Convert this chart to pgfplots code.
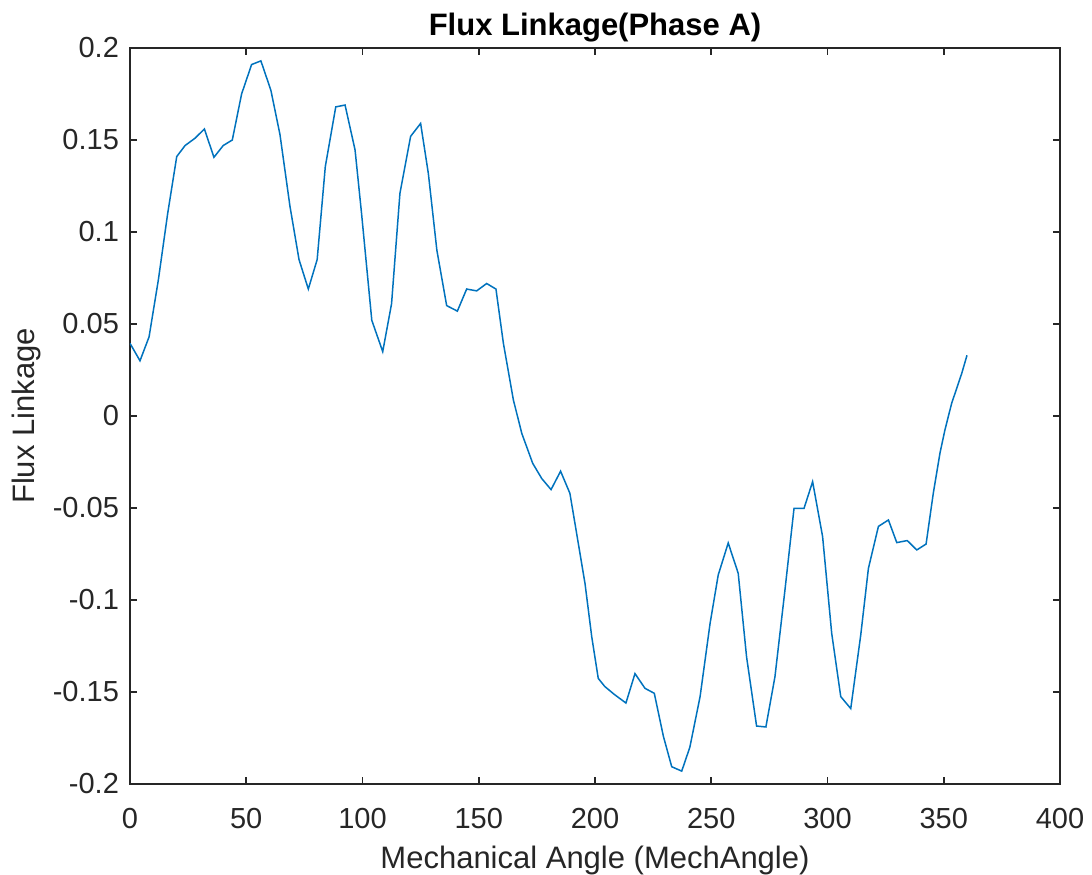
\documentclass[border=0pt]{standalone}
\usepackage{pgfplots}
\pgfplotsset{compat=1.18}
\usepackage{fontspec}
\setmainfont{Liberation Sans}
\definecolor{mlblue}{rgb}{0,0.447,0.741}
\definecolor{mlgray}{rgb}{0.15,0.15,0.15}
\begin{document}
\begin{tikzpicture}
\useasboundingbox (-65pt,-45pt) rectangle (481pt,392pt);
\begin{axis}[
  at={(0,0)}, anchor=south west,
  scale only axis, width=465pt, height=368pt,
  xmin=0, xmax=400, ymin=-0.2, ymax=0.2,
  xtick={0,50,...,400},
  ytick={-0.2,-0.15,-0.1,-0.05,0,0.05,0.1,0.15,0.2},
  yticklabels={-0.2,-0.15,-0.1,-0.05,0,0.05,0.1,0.15,0.2},
  xticklabels={0,50,100,150,200,250,300,350,400},
  tick align=inside, major tick length=3.5pt,
  axis line style={mlgray, line width=0.8pt},
  every tick/.style={mlgray, line width=0.8pt},
  tick label style={font=\fontsize{14.5}{16}\selectfont, text=mlgray},
  xticklabel style={yshift=-8.5pt},
  yticklabel style={xshift=-2pt},
  label style={font=\fontsize{15.5}{18}\selectfont, text=mlgray},
  title style={font=\bfseries\fontsize{15.5}{18}\selectfont, yshift=-6.5pt, text=black},
  title={Flux Linkage(Phase A)},
  xlabel={Mechanical Angle (MechAngle)},
  ylabel={Flux Linkage},
  xlabel style={yshift=-2pt},
  ylabel style={yshift=-1pt},
  grid=none,
]
\addplot[mlblue, line width=0.75pt, mark=none] coordinates {
(0,0.0395) (4.3,0.030) (8.2,0.043) (12.2,0.074) (16.2,0.110) (20.1,0.141)
(23.7,0.147) (28,0.151) (32,0.156) (36.1,0.1406) (40.1,0.147) (44,0.150)
(48,0.175) (52.3,0.191) (56.3,0.193) (60.6,0.177) (64.5,0.153) (68.8,0.114)
(72.7,0.085) (76.7,0.069) (80.5,0.085) (84,0.1355) (88.5,0.168) (92.5,0.169)
(96.8,0.1446) (99.6,0.110) (104,0.052) (108.7,0.035) (112.5,0.061) (116.1,0.121)
(120.7,0.152) (125,0.159) (128.3,0.132) (132,0.090) (136.2,0.060) (140.8,0.057)
(144.8,0.069) (149.1,0.068) (153.4,0.072) (157.4,0.069) (160.6,0.0395) (164.9,0.0087)
(168.5,-0.0094) (173.2,-0.0257) (177.1,-0.034) (181.1,-0.040) (185.2,-0.030) (189.2,-0.042)
(192.1,-0.0638) (195.7,-0.091) (198.6,-0.120) (201.4,-0.1426) (204.2,-0.147) (208,-0.151)
(213.3,-0.156) (217.2,-0.140) (221.5,-0.148) (225.5,-0.1507) (229.4,-0.174) (233,-0.1906)
(237.3,-0.193) (240.8,-0.180) (245.2,-0.1525) (249.5,-0.1127) (253,-0.0864) (257.3,-0.069)
(261.6,-0.0855) (265.2,-0.131) (269.5,-0.1685) (273.5,-0.169) (277.4,-0.1417) (281.7,-0.0946)
(285.6,-0.0502) (289.9,-0.0502) (293.6,-0.0357) (297.9,-0.0656) (301.8,-0.118) (305.7,-0.1525)
(310,-0.159) (314.3,-0.119) (317.6,-0.0828) (321.9,-0.060) (326.2,-0.0565) (329.8,-0.0688)
(334.3,-0.0677) (338.4,-0.0728) (342.4,-0.0696) (345.5,-0.042) (348.4,-0.020) (350.5,-0.0076)
(353.4,0.0069) (357.7,0.023) (360,0.033)
};
\end{axis}
\end{tikzpicture}
\end{document}
